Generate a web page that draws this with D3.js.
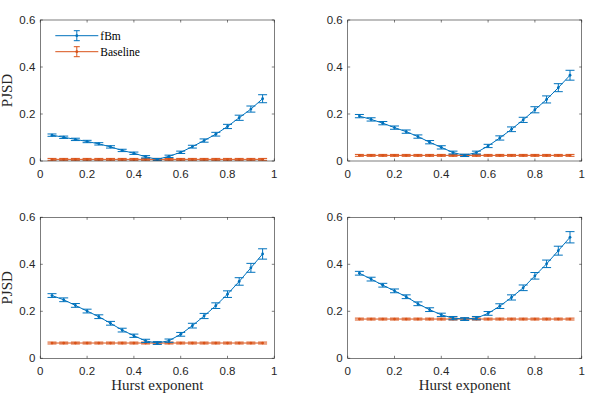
<!DOCTYPE html>
<html>
<head>
<meta charset="utf-8">
<script src="https://cdn.jsdelivr.net/npm/d3@7"></script>
<style>
  body { margin: 0; background: #fff; }
  svg { display: block; }
</style>
</head>
<body>
<svg width="598" height="394"></svg>
<script>
var hurst = [0.05, 0.10, 0.15, 0.20, 0.25, 0.30, 0.35, 0.40, 0.45, 0.50,
             0.55, 0.60, 0.65, 0.70, 0.75, 0.80, 0.85, 0.90, 0.95];
var xTicks = [0, 0.2, 0.4, 0.6, 0.8, 1];
var yTicks = [0, 0.2, 0.4, 0.6];
var seriesNames = ["fBm", "Baseline"];

// panel 1 (top left)
var fbm1 = [0.110, 0.101, 0.092, 0.083, 0.073, 0.060, 0.045, 0.033, 0.018, 0.007,
            0.020, 0.037, 0.061, 0.087, 0.114, 0.147, 0.184, 0.221, 0.265];
var fbmErr1 = [0.005, 0.005, 0.005, 0.005, 0.005, 0.005, 0.005, 0.005, 0.005, 0.004,
               0.005, 0.005, 0.006, 0.007, 0.008, 0.009, 0.011, 0.013, 0.017];
var base1 = [0.007, 0.007, 0.007, 0.007, 0.007, 0.007, 0.007, 0.007, 0.007, 0.007,
             0.007, 0.007, 0.007, 0.007, 0.007, 0.007, 0.007, 0.007, 0.007];
// panel 2 (top right)
var fbm2 = [0.191, 0.177, 0.161, 0.142, 0.125, 0.104, 0.080, 0.058, 0.036, 0.024,
            0.036, 0.064, 0.098, 0.135, 0.175, 0.218, 0.262, 0.312, 0.365];
var fbmErr2 = [0.007, 0.007, 0.007, 0.007, 0.007, 0.007, 0.007, 0.007, 0.006, 0.005,
               0.006, 0.007, 0.009, 0.010, 0.011, 0.013, 0.015, 0.017, 0.021];
var base2 = [0.024, 0.024, 0.024, 0.024, 0.024, 0.024, 0.024, 0.024, 0.024, 0.024,
             0.024, 0.024, 0.024, 0.024, 0.024, 0.024, 0.024, 0.024, 0.024];
// panel 3 (bottom left)
var fbm3 = [0.267, 0.249, 0.225, 0.201, 0.177, 0.149, 0.120, 0.096, 0.074, 0.065,
            0.075, 0.102, 0.139, 0.180, 0.224, 0.273, 0.327, 0.385, 0.444];
var fbmErr3 = [0.008, 0.008, 0.008, 0.008, 0.008, 0.008, 0.008, 0.007, 0.007, 0.006,
               0.007, 0.008, 0.010, 0.011, 0.012, 0.014, 0.016, 0.019, 0.022];
var base3 = [0.065, 0.065, 0.065, 0.065, 0.065, 0.065, 0.065, 0.065, 0.065, 0.065,
             0.065, 0.065, 0.065, 0.065, 0.065, 0.065, 0.065, 0.065, 0.065];
// panel 4 (bottom right)
var fbm4 = [0.362, 0.337, 0.311, 0.287, 0.262, 0.232, 0.207, 0.185, 0.171, 0.167,
            0.171, 0.191, 0.222, 0.259, 0.300, 0.351, 0.402, 0.458, 0.515];
var fbmErr4 = [0.008, 0.008, 0.008, 0.008, 0.008, 0.008, 0.008, 0.007, 0.007, 0.006,
               0.007, 0.008, 0.010, 0.011, 0.012, 0.014, 0.016, 0.019, 0.024];
var base4 = [0.167, 0.167, 0.167, 0.167, 0.167, 0.167, 0.167, 0.167, 0.167, 0.167,
             0.167, 0.167, 0.167, 0.167, 0.167, 0.167, 0.167, 0.167, 0.167];
var baseErr = [0.004, 0.004, 0.004, 0.004, 0.004, 0.004, 0.004, 0.004, 0.004, 0.004,
               0.004, 0.004, 0.004, 0.004, 0.004, 0.004, 0.004, 0.004, 0.004];

var blue = "#0072BD", orange = "#D95319", axisColor = "#262626";
var sansFont = "'Liberation Sans', Arial, Helvetica, sans-serif",
    serifFont = "'Liberation Serif', 'Times New Roman', Times, 'DejaVu Serif', serif";

var panels = [
    { left: 40.3, top: 20, fbm: fbm1, err: fbmErr1, base: base1, ylabel: true, xlabel: false, legend: true },
    { left: 347.7, top: 20, fbm: fbm2, err: fbmErr2, base: base2, ylabel: false, xlabel: false, legend: false },
    { left: 40.3, top: 217.3, fbm: fbm3, err: fbmErr3, base: base3, ylabel: true, xlabel: true, legend: false },
    { left: 347.7, top: 217.3, fbm: fbm4, err: fbmErr4, base: base4, ylabel: false, xlabel: true, legend: false }
];
var pw = 234, ph = 141, tickLen = 2.5, capW = 4.5;

var svg = d3.select("svg");

panels.forEach(function(p) {
    var x = d3.scaleLinear().domain([0, 1]).range([0, pw]),
        y = d3.scaleLinear().domain([0, 0.6]).range([ph, 0]);

    var g = svg.append("g")
        .attr("transform", "translate(" + p.left + "," + p.top + ")");

    // ticks (inward, all four sides)
    xTicks.forEach(function(t) {
        g.append("line").attr("x1", x(t)).attr("x2", x(t)).attr("y1", ph).attr("y2", ph - tickLen)
            .attr("stroke", axisColor).attr("stroke-width", 0.6);
        g.append("line").attr("x1", x(t)).attr("x2", x(t)).attr("y1", 0).attr("y2", tickLen)
            .attr("stroke", axisColor).attr("stroke-width", 0.6);
        g.append("text")
            .style("font-family", sansFont).style("font-size", "11.5px").style("fill", axisColor)
            .attr("x", x(t)).attr("y", ph + 17)
            .attr("text-anchor", "middle")
            .text(t === 0 || t === 1 ? String(t) : t.toFixed(1));
    });
    yTicks.forEach(function(t) {
        g.append("line").attr("x1", 0).attr("x2", tickLen).attr("y1", y(t)).attr("y2", y(t))
            .attr("stroke", axisColor).attr("stroke-width", 0.6);
        g.append("line").attr("x1", pw).attr("x2", pw - tickLen).attr("y1", y(t)).attr("y2", y(t))
            .attr("stroke", axisColor).attr("stroke-width", 0.6);
        g.append("text")
            .style("font-family", sansFont).style("font-size", "11.5px").style("fill", axisColor)
            .attr("x", -5).attr("y", y(t)).attr("dy", "0.35em")
            .attr("text-anchor", "end")
            .text(t === 0 ? "0" : t.toFixed(1));
    });

    var line = d3.line()
        .x(function(d, i) { return x(hurst[i]); })
        .y(function(d) { return y(d); });

    function drawSeries(vals, errs, color) {
        var s = g.append("g");
        s.append("path").datum(vals)
            .attr("d", line).attr("fill", "none")
            .attr("stroke", color).attr("stroke-width", 1);
        vals.forEach(function(v, i) {
            var cx = x(hurst[i]), lo = y(v - errs[i]), hi = y(v + errs[i]);
            s.append("line").attr("x1", cx).attr("x2", cx).attr("y1", lo).attr("y2", hi)
                .attr("stroke", color).attr("stroke-width", 1);
            s.append("line").attr("x1", cx - capW).attr("x2", cx + capW).attr("y1", lo).attr("y2", lo)
                .attr("stroke", color).attr("stroke-width", 1);
            s.append("line").attr("x1", cx - capW).attr("x2", cx + capW).attr("y1", hi).attr("y2", hi)
                .attr("stroke", color).attr("stroke-width", 1);
            s.append("circle").attr("cx", cx).attr("cy", y(v)).attr("r", 1.4).attr("fill", color);
        });
    }
    drawSeries(p.base, baseErr, orange);
    drawSeries(p.fbm, p.err, blue);

    // box
    g.append("rect").attr("width", pw).attr("height", ph)
        .attr("fill", "none").attr("stroke", axisColor).attr("stroke-width", 0.6);

    if (p.ylabel) {
        g.append("text")
            .style("font-family", serifFont).style("font-size", "15px").style("fill", axisColor)
            .attr("transform", "translate(-28," + (ph / 2) + ")rotate(-90)")
            .attr("text-anchor", "middle")
            .text("PJSD");
    }
    if (p.xlabel) {
        g.append("text")
            .style("font-family", serifFont).style("font-size", "15px").style("fill", axisColor)
            .attr("x", pw / 2).attr("y", ph + 32)
            .attr("text-anchor", "middle")
            .text("Hurst exponent");
    }
    if (p.legend) {
        var colors = [blue, orange];
        seriesNames.forEach(function(name, i) {
            var ly = 15.7 + i * 16, lx0 = 15, lx1 = 58, lc = (lx0 + lx1) / 2;
            var lg = g.append("g");
            lg.append("line").attr("x1", lx0).attr("x2", lx1).attr("y1", ly).attr("y2", ly)
                .attr("stroke", colors[i]).attr("stroke-width", 1);
            lg.append("line").attr("x1", lc).attr("x2", lc).attr("y1", ly - 5).attr("y2", ly + 5)
                .attr("stroke", colors[i]).attr("stroke-width", 1);
            lg.append("line").attr("x1", lc - 3).attr("x2", lc + 3).attr("y1", ly - 5).attr("y2", ly - 5)
                .attr("stroke", colors[i]).attr("stroke-width", 1);
            lg.append("line").attr("x1", lc - 3).attr("x2", lc + 3).attr("y1", ly + 5).attr("y2", ly + 5)
                .attr("stroke", colors[i]).attr("stroke-width", 1);
            lg.append("circle").attr("cx", lc).attr("cy", ly).attr("r", 1.4).attr("fill", colors[i]);
            lg.append("text")
                .style("font-family", serifFont).style("font-size", "11.5px").style("fill", "#000")
                .attr("x", 60).attr("y", ly).attr("dy", "0.35em")
                .text(name);
        });
    }
});
</script>
</body>
</html>
